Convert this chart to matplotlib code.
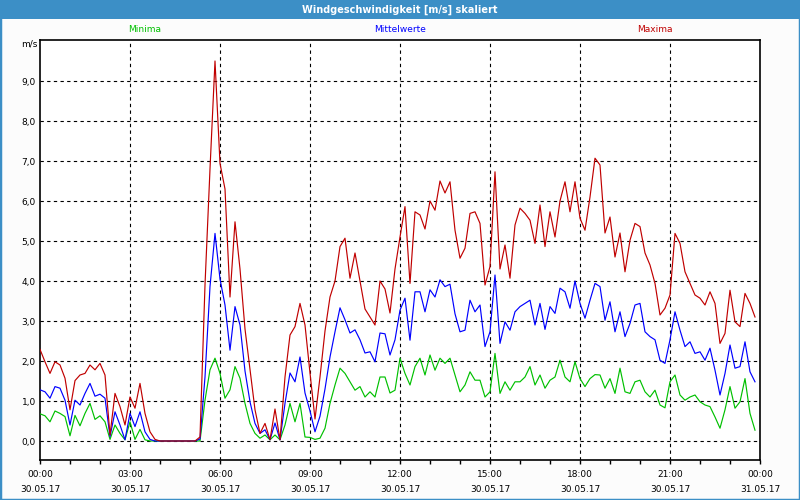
import numpy as np
import matplotlib
matplotlib.use("Agg")
import matplotlib.pyplot as plt
from matplotlib.patches import Rectangle
from matplotlib.ticker import MultipleLocator

# 10-Minuten-Werte 30.05.17 00:00 .. 23:50
maxima = [2.29, 1.98, 1.69, 1.98, 1.9, 1.57,
          0.78, 1.51, 1.65, 1.69, 1.9, 1.78,
          1.94, 1.65, 0.15, 1.19, 0.86, 0.4,
          1.1, 0.82, 1.44, 0.69, 0.23, 0.04,
          0, 0, 0, 0, 0, 0,
          0, 0, 0.1, 3.9, 6.8, 9.5,
          6.94, 6.3, 3.6, 5.48, 4.3, 2.8,
          1.8, 0.78, 0.19, 0.44, 0.03, 0.8,
          0.03, 1.6, 2.65, 2.86, 3.44, 2.9,
          1.7, 0.55, 1.6, 2.75, 3.6, 4.0,
          4.86, 5.07, 4.07, 4.7, 4.0, 3.3,
          3.1, 2.9, 4.0, 3.8, 3.2, 4.3,
          5.1, 5.86, 3.94, 5.73, 5.65, 5.3,
          6.0, 5.77, 6.5, 6.2, 6.48, 5.27,
          4.57, 4.82, 5.69, 5.73, 5.44, 3.9,
          4.36, 6.73, 4.3, 4.9, 4.07, 5.4,
          5.82, 5.69, 5.52, 4.94, 5.9, 4.86,
          5.73, 5.1, 6.0, 6.48, 5.73, 6.48,
          5.57, 5.27, 6.1, 7.07, 6.9, 5.2,
          5.6, 4.6, 5.2, 4.23, 5.02, 5.44,
          5.36, 4.7, 4.4, 3.94, 3.15, 3.32,
          3.65, 5.19, 4.94, 4.23, 3.94, 3.65,
          3.57, 3.4, 3.73, 3.44, 2.44, 2.69,
          3.77, 2.98, 2.86, 3.69, 3.44, 3.1]

mittelwerte = [1.28, 1.23, 1.07, 1.36, 1.32, 1.02,
               0.4, 1.02, 0.9, 1.19, 1.44, 1.12,
               1.17, 1.07, 0.11, 0.73, 0.4, 0.03,
               0.69, 0.36, 0.73, 0.23, 0.04, 0,
               0, 0, 0, 0, 0, 0,
               0, 0, 0.05, 1.6, 3.86, 5.19,
               4.05, 3.4, 2.27, 3.36, 2.9, 1.75,
               0.98, 0.44, 0.19, 0.28, 0.03, 0.45,
               0.03, 0.94, 1.7, 1.48, 2.1, 1.2,
               0.75, 0.23, 0.62, 1.3, 2.1, 2.73,
               3.33, 3.03, 2.7, 2.78, 2.53, 2.2,
               2.23, 1.98, 2.7, 2.68, 2.15, 2.53,
               3.27, 3.57, 2.52, 3.73, 3.73, 3.23,
               3.78, 3.6, 4.03, 3.86, 3.92, 3.18,
               2.73, 2.77, 3.52, 3.23, 3.4, 2.36,
               2.73, 4.15, 2.44, 2.98, 2.77, 3.23,
               3.36, 3.44, 3.52, 2.9, 3.44, 2.79,
               3.36, 3.19, 3.82, 3.73, 3.32, 4.0,
               3.44, 3.07, 3.52, 3.94, 3.86, 3.02,
               3.48, 2.73, 3.23, 2.61, 2.94, 3.4,
               3.44, 2.73, 2.61, 2.53, 2.02, 1.94,
               2.53, 3.23, 2.77, 2.36, 2.48, 2.19,
               2.23, 2.02, 2.32, 1.77, 1.15, 1.69,
               2.4, 1.82, 1.86, 2.48, 1.73, 1.48]

minima = [0.68, 0.63, 0.48, 0.75, 0.69, 0.61,
          0.13, 0.64, 0.38, 0.69, 0.94, 0.54,
          0.63, 0.48, 0.04, 0.4, 0.19, 0.03,
          0.48, 0.04, 0.29, 0.03, 0, 0,
          0, 0, 0, 0, 0, 0,
          0, 0, 0, 1.02, 1.78, 2.07,
          1.69, 1.07, 1.28, 1.86, 1.57, 0.94,
          0.44, 0.19, 0.07, 0.15, 0.03, 0.15,
          0.03, 0.4, 0.94, 0.48, 0.94, 0.1,
          0.09, 0.04, 0.07, 0.32, 0.94, 1.4,
          1.82, 1.69, 1.48, 1.27, 1.36, 1.1,
          1.23, 1.1, 1.6, 1.6, 1.2, 1.27,
          2.07, 1.69, 1.4, 1.86, 2.07, 1.65,
          2.15, 1.77, 2.07, 1.94, 2.07, 1.65,
          1.23, 1.4, 1.73, 1.52, 1.52, 1.1,
          1.23, 2.19, 1.19, 1.48, 1.27, 1.48,
          1.48, 1.6, 1.86, 1.4, 1.65, 1.32,
          1.52, 1.6, 2.02, 1.6, 1.48, 1.98,
          1.56, 1.36, 1.56, 1.66, 1.65, 1.32,
          1.56, 1.19, 1.82, 1.23, 1.19, 1.48,
          1.52, 1.23, 1.1, 1.27, 0.9, 0.83,
          1.48, 1.65, 1.15, 1.02, 1.1, 1.15,
          0.98, 0.9, 0.86, 0.6, 0.32, 0.78,
          1.36, 0.82, 0.98, 1.56, 0.69, 0.27]

tick_hours = [0, 3, 6, 9, 12, 15, 18, 21, 24]
tick_labels = ["00:00\n30.05.17", "03:00\n30.05.17", "06:00\n30.05.17",
               "09:00\n30.05.17", "12:00\n30.05.17", "15:00\n30.05.17",
               "18:00\n30.05.17", "21:00\n30.05.17", "00:00\n31.05.17"]
y_ticks = [0, 1, 2, 3, 4, 5, 6, 7, 8, 9]

hours = np.arange(len(maxima)) * 10 / 60.0

frame_blue = "#3c8fc6"
c_min = "#00c000"
c_mit = "#0000ff"
c_max = "#c00000"

plt.rcParams['font.family'] = ['DejaVu Sans']
fig = plt.figure(figsize=(8, 5), dpi=100, facecolor="#fcfcfc")

# Fensterrahmen + Titelleiste
fig.patches.append(Rectangle((0, 0), 1, 1, transform=fig.transFigure,
                             fill=False, edgecolor=frame_blue, linewidth=2.5))
fig.patches.append(Rectangle((0, 0.962), 1, 0.038, transform=fig.transFigure,
                             facecolor=frame_blue, edgecolor="none"))
fig.text(0.5, 0.981, "Windgeschwindigkeit [m/s] skaliert", color="white",
         fontsize=7, fontweight="bold", ha="center", va="center")

fig.text(145 / 800, 1 - 30 / 500, "Minima", color=c_min, fontsize=6.5, ha="center", va="center")
fig.text(400 / 800, 1 - 30 / 500, "Mittelwerte", color=c_mit, fontsize=6.5, ha="center", va="center")
fig.text(655 / 800, 1 - 30 / 500, "Maxima", color=c_max, fontsize=6.5, ha="center", va="center")
fig.text(37 / 800, 1 - 44 / 500, "m/s", color="black", fontsize=6.5, ha="right", va="center")

ax = fig.add_axes([0.05, 0.08, 0.9, 0.84])
ax.set_facecolor("white")

ax.plot(hours, minima, color=c_min, linewidth=0.85, zorder=3)
ax.plot(hours, mittelwerte, color=c_mit, linewidth=0.85, zorder=4)
ax.plot(hours, maxima, color=c_max, linewidth=0.85, zorder=5)

ax.set_xlim(0, 24)
ax.set_ylim(-0.475, 10.025)

ax.set_yticks(y_ticks)
ax.set_yticklabels([("%.1f" % v).replace(".", ",") for v in y_ticks])
ax.set_xticks(tick_hours)
ax.set_xticklabels(tick_labels, linespacing=1.9)
ax.xaxis.set_minor_locator(MultipleLocator(1))

ax.tick_params(axis="y", length=0, pad=3, labelsize=6.5)
ax.tick_params(axis="x", which="both", length=3, width=1, direction="out", labelsize=6.5, pad=4)

for v in y_ticks:
    ax.axhline(v, color="black", linewidth=0.8, linestyle=(0, (3, 3)), zorder=1)
for h in tick_hours[1:-1]:
    ax.axvline(h, color="black", linewidth=0.8, linestyle=(0, (3, 3)), zorder=1)

for s in ax.spines.values():
    s.set_linewidth(1.2)
    s.set_color("black")

fig.savefig("out.png", dpi=100, facecolor=fig.get_facecolor())
